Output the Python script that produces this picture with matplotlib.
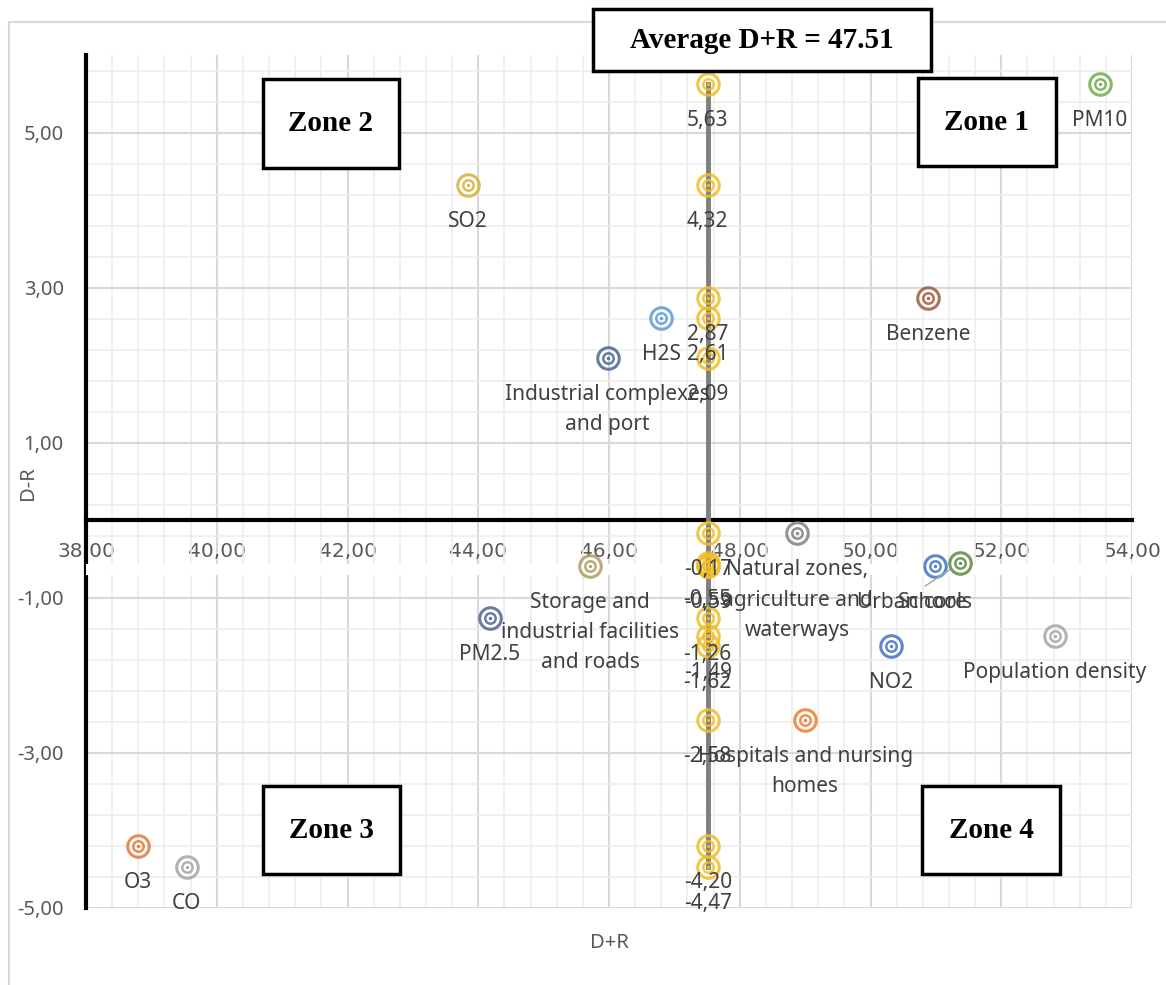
import numpy as np
import matplotlib
matplotlib.use("Agg")
import matplotlib.pyplot as plt
from matplotlib.patches import Rectangle
from matplotlib.ticker import FixedLocator, FuncFormatter

# datos
factores = ['PM10', 'SO2', 'Benzene', 'H2S', 'Industrial complexes\nand port',
            'Natural zones,\nagriculture and\nwaterways',
            'Storage and\nindustrial facilities\nand roads',
            'Urban core', 'Schools', 'PM2.5', 'Population density', 'NO2',
            'Hospitals and nursing\nhomes', 'O3', 'CO']
d_mas_r = [53.51, 43.84, 50.88, 46.80, 45.98, 48.88, 45.71, 50.99, 51.37,
           44.18, 52.82, 50.31, 49.00, 38.80, 39.54]
d_menos_r = [5.63, 4.32, 2.87, 2.61, 2.09, -0.17, -0.59, -0.59, -0.55,
             -1.26, -1.49, -1.62, -2.58, -4.20, -4.47]
colores = ['#70AD47', '#D9B03C', '#9E5A3C', '#5B9BD5', '#4A6890', '#808080',
           '#B09A5E', '#4472C4', '#5B8A3C', '#4F6592', '#A5A5A5', '#4472C4',
           '#ED7D31', '#E07B39', '#A5A5A5']
promedio = 47.51
x_ticks = [38, 40, 42, 44, 46, 48, 50, 52, 54]
y_ticks = [-5, -3, -1, 1, 3, 5]

W, H = 1166, 985
fuente = 'Noto Sans'
gris_txt = '#595959'
gris_dat = '#404040'
tam = 15


def fx(px):
    return px / W


def fy(py):
    return 1 - py / H


def marcador(ax, x, y, color, z=4):
    ax.plot(x, y, 'o', ms=15.5, mfc='none', mec=color, mew=2.2, alpha=0.85, zorder=z)
    ax.plot(x, y, 'o', ms=7.5, mfc='none', mec=color, mew=1.8, alpha=0.85, zorder=z)
    ax.plot(x, y, 'o', ms=2.5, mfc=color, mec='none', alpha=0.9, zorder=z)


fig = plt.figure(figsize=(W / 100, H / 100), dpi=100)
ax = fig.add_axes([fx(86), fy(908), fx(1132) - fx(86), fy(55) - fy(908)])

# borde del area del grafico
fig.add_artist(Rectangle((fx(9), -0.2), 1.5, fy(22) + 0.2, transform=fig.transFigure,
                         fill=False, edgecolor='#D9D9D9', lw=1.5))

ax.set_xlim(38, 54)
ax.set_ylim(-5, 6)
ax.xaxis.set_major_locator(FixedLocator(x_ticks))
ax.yaxis.set_major_locator(FixedLocator(y_ticks))
ax.xaxis.set_minor_locator(FixedLocator(np.arange(38, 54.01, 0.4)))
ax.yaxis.set_minor_locator(FixedLocator(np.arange(-5, 5.9, 0.4)))
fmt = FuncFormatter(lambda v, p: f"{v:.2f}".replace('.', ','))
ax.xaxis.set_major_formatter(fmt)
ax.yaxis.set_major_formatter(fmt)
ax.grid(which='minor', color='#EDEDED', lw=1.2)
ax.grid(which='major', color='#D9D9D9', lw=1.5)
ax.set_axisbelow(True)
ax.tick_params(which='both', length=0)
ax.tick_params(axis='y', pad=16, labelsize=14.5, labelcolor=gris_txt)
ax.tick_params(axis='x', pad=16, labelsize=14.5, labelcolor=gris_txt)
for lbl in ax.get_xticklabels() + ax.get_yticklabels():
    lbl.set_family(fuente)

ax.spines['top'].set_visible(False)
ax.spines['right'].set_visible(False)
ax.spines['bottom'].set_position(('data', 0))
ax.spines['bottom'].set_linewidth(3)
ax.spines['bottom'].set_color('black')
ax.spines['left'].set_linewidth(3)
ax.spines['left'].set_color('black')

# franja blanca bajo las etiquetas del eje x
ax.axhspan(-0.57, -0.71, color='white', zorder=2.6, lw=0)

# linea del promedio con los valores D-R
orden = sorted(d_menos_r, reverse=True)
ax.plot([promedio] * len(orden), orden, color='#7F7F7F', lw=3.5, zorder=3)
for y in orden:
    marcador(ax, promedio, y, '#F2BE22', z=3.5)
for y in sorted(set(d_menos_r), reverse=True):
    ax.annotate(f"{y:.2f}".replace('.', ','), (promedio, y), xytext=(0, -26),
                textcoords='offset pixels', ha='center', va='top', fontsize=tam,
                color=gris_dat, family=fuente, zorder=5)

# factores
desplaz = {'Urban core': (-23, -26), 'Schools': (-25, -29)}
for nom, x, y, c in zip(factores, d_mas_r, d_menos_r, colores):
    marcador(ax, x, y, c)
    dx, dy = desplaz.get(nom, (0, -26))
    kw = {}
    if nom == 'Schools':
        kw['arrowprops'] = dict(arrowstyle='-', color='#A5A5A5', lw=1,
                                relpos=(0.25, 1.0), shrinkA=4, shrinkB=9)
    ax.annotate(nom, (x, y), xytext=(dx, dy), textcoords='offset pixels',
                ha='center', va='top', fontsize=tam, color=gris_dat,
                family=fuente, linespacing=1.57, zorder=5, **kw)

# titulos de ejes
fig.text(fx(609), fy(943), 'D+R', ha='center', va='center', fontsize=14.5,
         color=gris_txt, family=fuente)
fig.text(fx(28), fy(483), 'D-R', ha='center', va='center', fontsize=14.5,
         color=gris_txt, family=fuente, rotation=90)

# cuadros de texto
cuadros = [('Average D+R = 47.51', 593, 9, 931, 71),
           ('Zone 2', 263, 79, 399, 168),
           ('Zone 1', 918, 78, 1056, 166),
           ('Zone 3', 263, 786, 400, 874),
           ('Zone 4', 922, 786, 1060, 874)]
for txt, x0, y0, x1, y1 in cuadros:
    fig.add_artist(Rectangle((fx(x0), fy(y1)), fx(x1) - fx(x0), fy(y0) - fy(y1),
                             transform=fig.transFigure, facecolor='white',
                             edgecolor='black', lw=2.5, zorder=10))
    fig.text(fx((x0 + x1) / 2), fy((y0 + y1) / 2), txt, ha='center', va='center',
             fontsize=21, fontweight='bold', family='Liberation Serif', zorder=11)

plt.savefig('out.png', dpi=100)
